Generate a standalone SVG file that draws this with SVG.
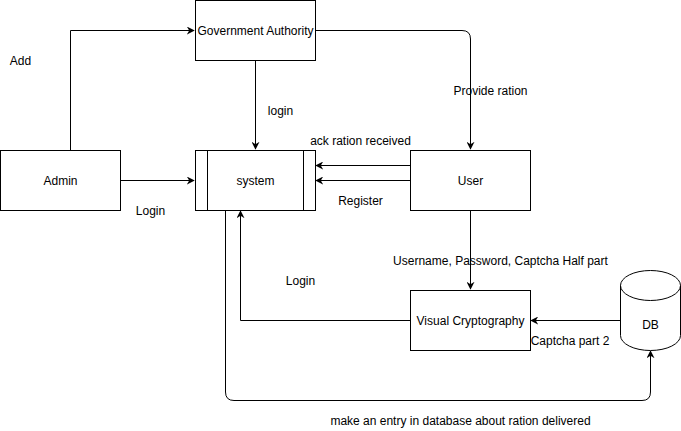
<svg xmlns="http://www.w3.org/2000/svg" width="681" height="431" viewBox="0 0 681 431">
<defs>
<style>
.box{fill:#fff;stroke:#000;stroke-width:1}
.ln{fill:none;stroke:#000;stroke-width:1;marker-end:url(#ah)}
text{font-family:"Liberation Sans",Arial,sans-serif;font-size:12px;fill:#000}
.c{text-anchor:middle}
</style>
<marker id="ah" viewBox="0 0 10 10" refX="9" refY="5" markerWidth="8" markerHeight="8" markerUnits="userSpaceOnUse" orient="auto">
<path d="M0,0 L10,5 L0,10 L3,5 Z" fill="#000"/>
</marker>
</defs>
<rect width="681" height="431" fill="#fff"/>
<g id="connectors">
<path class="ln" d="M70.5,150 V30.5 H194"/>
<path class="ln" d="M120,180.5 H194"/>
<path class="ln" d="M255.5,60 V149"/>
<path class="ln" d="M315,30.5 H462 Q470.5,30.5 470.5,39 V149"/>
<path class="ln" d="M410,165.5 H316"/>
<path class="ln" d="M410,180.5 H316"/>
<path class="ln" d="M470.5,210 V289"/>
<path class="ln" d="M410,320.5 H240.5 V211"/>
<path class="ln" d="M620,320.5 H531"/>
<path class="ln" d="M225.5,210 V392 Q225.5,400.5 234,400.5 H642 Q650.5,400.5 650.5,392 V351"/>
</g>
<g id="gov">
<rect class="box" x="195.5" y="0.5" width="120" height="60"/>
<text class="c" x="255.5" y="34.5">Government Authority</text>
</g>
<g id="admin">
<rect class="box" x="0.5" y="150.5" width="120" height="60"/>
<text class="c" x="60.5" y="184.5">Admin</text>
</g>
<g id="system">
<rect class="box" x="195.5" y="150.5" width="120" height="60"/>
<line x1="207.5" y1="150.5" x2="207.5" y2="210.5" stroke="#000"/>
<line x1="303.5" y1="150.5" x2="303.5" y2="210.5" stroke="#000"/>
<text class="c" x="255.5" y="184.5">system</text>
</g>
<g id="user">
<rect class="box" x="410.5" y="150.5" width="120" height="60"/>
<text class="c" x="470.5" y="184.5">User</text>
</g>
<g id="vc">
<rect class="box" x="410.5" y="290.5" width="120" height="60"/>
<text class="c" x="470.5" y="324.5">Visual Cryptography</text>
</g>
<g id="db">
<path class="box" d="M620.5,285.5 A30,15 0 0 1 680.5,285.5 V335.5 A30,15 0 0 1 620.5,335.5 Z"/>
<path d="M620.5,285.5 A30,15 0 0 0 680.5,285.5" fill="none" stroke="#000"/>
<text class="c" x="650.5" y="328.5">DB</text>
</g>
<g id="labels">
<text class="c" x="20.5" y="64.5">Add</text>
<text class="c" x="280.5" y="114.5">login</text>
<text class="c" x="150.5" y="215">Login</text>
<text class="c" x="360.5" y="145">ack ration received</text>
<text class="c" x="360.5" y="205">Register</text>
<text class="c" x="490.5" y="95">Provide ration</text>
<text class="c" x="500.5" y="265">Username, Password, Captcha Half part</text>
<text class="c" x="300.5" y="285">Login</text>
<text class="c" x="570" y="345">Captcha part 2</text>
<text class="c" x="460.5" y="425">make an entry in database about ration delivered</text>
</g>
</svg>
